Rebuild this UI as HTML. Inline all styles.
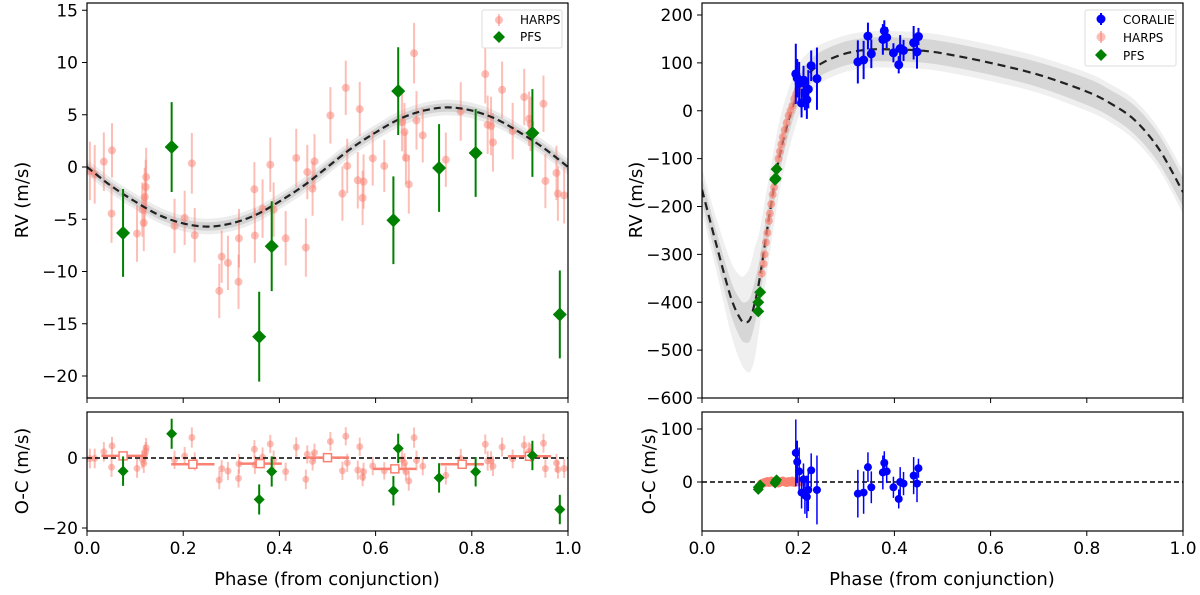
<!DOCTYPE html>
<html><head><meta charset="utf-8">
<style>
html,body{margin:0;padding:0;background:#fff;}
svg{display:block;font-family:"DejaVu Sans","Liberation Sans",sans-serif;}
</style></head>
<body>
<svg id="fig" width="1200" height="595" viewBox="0 0 1200 595" xmlns="http://www.w3.org/2000/svg"></svg>
<script>
// ---------- LEFT PANEL DATA ----------
const harpsLPhase=[0.006,0.016,0.035,0.051,0.052,0.104,0.115,0.118,0.120,0.122,0.123,0.182,0.203,0.218,0.224,0.275,0.280,0.293,0.315,0.316,0.348,0.349,0.365,0.381,0.388,0.413,0.435,0.455,0.458,0.469,0.473,0.506,0.531,0.538,0.541,0.563,0.567,0.573,0.575,0.594,0.618,0.655,0.660,0.663,0.669,0.680,0.685,0.698,0.746,0.777,0.828,0.833,0.840,0.844,0.863,0.885,0.909,0.919,0.922,0.949,0.953,0.976,0.979,0.992];
const harpsLRV=[-0.38,-0.70,0.51,-4.46,1.59,-6.37,-4.08,-5.35,-2.87,-1.91,-0.96,-5.64,-4.87,0.35,-6.53,-11.86,-8.58,-9.17,-10.99,-6.82,-2.13,-6.56,-3.98,0.22,-4.08,-6.82,0.86,-7.71,-0.48,-2.07,0.54,4.94,-2.55,7.58,0.10,-1.27,5.54,-2.96,-1.40,0.83,0.10,4.30,3.34,0.89,-1.66,10.89,4.46,3.03,0.70,5.32,8.89,4.04,3.92,2.36,7.39,3.44,6.69,4.62,4.14,6.05,-1.34,-0.57,-2.55,-2.71];
const harpsLErr=[2.8,2.8,2.8,2.8,2.6,2.7,2.6,2.7,2.8,2.6,2.8,2.6,2.6,2.9,2.6,2.6,2.5,2.6,2.6,2.8,2.6,2.6,2.8,2.6,2.6,2.6,2.8,2.8,2.6,2.6,2.6,2.7,2.6,2.6,2.6,2.7,2.6,2.6,2.6,2.6,2.5,2.8,2.8,2.5,2.8,2.9,2.8,2.6,2.6,2.8,2.8,2.8,2.8,2.8,2.7,2.7,2.7,2.6,2.6,2.7,2.6,2.6,2.6,2.7];
const pfsLPhase=[0.075,0.176,0.358,0.384,0.637,0.647,0.732,0.808,0.926,0.983];
const pfsLRV=[-6.31,1.91,-16.24,-7.58,-5.10,7.26,-0.10,1.34,3.25,-14.11];
const pfsLErr=[4.2,4.3,4.3,4.3,4.2,4.2,4.2,4.2,4.2,4.2];
const modelLPhase=[0,0.05,0.1,0.15,0.2,0.25,0.3,0.35,0.4,0.45,0.5,0.55,0.6,0.65,0.7,0.75,0.8,0.85,0.9,0.95,1.0];
const modelLRV=[0,-1.8,-3.3,-4.6,-5.4,-5.7,-5.4,-4.6,-3.3,-1.8,0,1.8,3.3,4.6,5.4,5.7,5.4,4.6,3.3,1.8,0];
const binPhase=[0.075,0.22,0.36,0.5,0.64,0.78,0.92];
const binRes=[0.6,-1.8,-1.6,0.1,-3.1,-1.8,0.5];
const leftYTicks=[15,10,5,0,-5,-10,-15,-20];
const leftResTicks=[0,-20];
const xTicks=[0.0,0.2,0.4,0.6,0.8,1.0];
// ---------- RIGHT PANEL DATA ----------
const corPhase=[0.195,0.198,0.202,0.207,0.211,0.214,0.218,0.221,0.227,0.239,0.324,0.336,0.345,0.352,0.376,0.379,0.384,0.398,0.409,0.412,0.419,0.440,0.447,0.450];
const corRV=[77,68,57,16,64,36,23,45,94,67,102,106,156,119,149,167,153,121,96,130,126,142,123,155];
const corErr=[63,40,45,30,30,35,40,40,32,65,45,40,28,30,32,22,22,20,18,28,22,35,35,18];
const corRes=[55,38,20,-20,5,-25,-28,-15,22,-15,-22,-20,28,-10,18,36,20,-10,-32,0,-3,12,-3,26];
const harpsRPhase=[0.124,0.128,0.13,0.133,0.136,0.139,0.141,0.144,0.147,0.15,0.153,0.156,0.159,0.162,0.165,0.168,0.172,0.176,0.18,0.184,0.188,0.192,0.196,0.2,0.204,0.207];
const harpsRRV=[-340,-320,-300,-275,-255,-230,-215,-195,-175,-160,-140,-120,-100,-85,-70,-55,-40,-25,-10,0,10,25,35,45,55,60];
const harpsRRes=[-3,-2,-1,0,1,-1,0,2,1,-1,0,1,-2,0,1,2,0,-1,1,0,2,-1,0,1,0,1];
const pfsRPhase=[0.117,0.117,0.121,0.152,0.153,0.155];
const pfsRRV=[-419,-400,-379,-144,-141,-122];
const pfsRRes=[-14,-10,-6,-2,1,4];
const modelRPhase=[0,0.03,0.06,0.08,0.09,0.1,0.11,0.12,0.14,0.16,0.18,0.2,0.22,0.25,0.3,0.35,0.4,0.45,0.5,0.6,0.7,0.8,0.85,0.9,0.95,1.0];
const modelRRV=[-165,-280,-390,-435,-442,-435,-400,-350,-220,-100,-20,40,75,100,120,128,128,126,120,100,75,40,15,-20,-80,-170];
const band1R=[25,28,35,40,42,45,45,42,38,35,30,28,26,25,25,25,25,25,25,25,26,28,28,30,30,30];
const band2R=[45,55,75,90,100,110,115,100,85,75,65,55,45,40,38,38,38,38,38,38,38,40,40,42,42,45];
const rightYTicks=[200,100,0,-100,-200,-300,-400,-500,-600];
const rightResTicks=[100,0];

const NS="http://www.w3.org/2000/svg";
const svg=document.getElementById('fig');
function mk(tag,attrs,parent){const e=document.createElementNS(NS,tag);for(const k in attrs)e.setAttribute(k,attrs[k]);(parent||svg).appendChild(e);return e;}
function lin(d0,d1,r0,r1){return v=>r0+(v-d0)*(r1-r0)/(d1-d0);}
function interp(xs,ys,x){if(x<=xs[0])return ys[0];for(let i=1;i<xs.length;i++){if(x<=xs[i]){const t=(x-xs[i-1])/(xs[i]-xs[i-1]);return ys[i-1]+t*(ys[i]-ys[i-1]);}}return ys[ys.length-1];}
function smoothPath(pts){let d='M'+pts[0][0].toFixed(1)+','+pts[0][1].toFixed(1);for(let i=0;i<pts.length-1;i++){const p0=pts[i-1]||pts[i],p1=pts[i],p2=pts[i+1],p3=pts[i+2]||p2;const c1=[p1[0]+(p2[0]-p0[0])/6,p1[1]+(p2[1]-p0[1])/6],c2=[p2[0]-(p3[0]-p1[0])/6,p2[1]-(p3[1]-p1[1])/6];d+='C'+c1[0].toFixed(1)+','+c1[1].toFixed(1)+' '+c2[0].toFixed(1)+','+c2[1].toFixed(1)+' '+p2[0].toFixed(1)+','+p2[1].toFixed(1);}return d;}
function bandPath(xs,ys,ws,X,Y){const up=xs.map((p,i)=>[X(p),Y(ys[i]+ws[i])]);const dn=xs.map((p,i)=>[X(p),Y(ys[i]-ws[i])]).reverse();let d=smoothPath(up);d+='L'+smoothPath(dn).slice(1)+'Z';return d;}

function axesFrame(g,x0,x1,y0,y1,name){
  const r=mk('rect',{x:x0,y:y0,width:x1-x0,height:y1-y0,fill:'none',stroke:'#000','stroke-width':1.2},g);
  
  
}
function yTicks(g,ticks,Y,x0,fmt,name){
  ticks.forEach(t=>{
    mk('line',{x1:x0-5,x2:x0,y1:Y(t),y2:Y(t),stroke:'#000','stroke-width':1},g);
    const tx=mk('text',{x:x0-9,y:Y(t)+6,'text-anchor':'end','font-size':17,fill:'#000'},g);
    tx.textContent=fmt(t);
    
    
  });
}
function xTickMarks(g,X,y,labels,name){
  xTicks.forEach(t=>{
    mk('line',{x1:X(t),x2:X(t),y1:y,y2:y+5,stroke:'#000','stroke-width':1},g);
    if(labels){const tx=mk('text',{x:X(t),y:y+23,'text-anchor':'middle','font-size':17,fill:'#000'},g);
      tx.textContent=t.toFixed(1);
      
      }
  });
}
const minus=v=>v<0?'\u2212'+Math.abs(v):String(v);
function errPoint(g,x,y,e1,e2,color,op,w,shape,r,name){
  mk('line',{x1:x,x2:x,y1:e1,y2:e2,stroke:color,'stroke-width':w,opacity:op},g);
  let m;
  if(shape==='d'){m=mk('path',{d:`M${x},${y-r}L${x+r},${y}L${x},${y+r}L${x-r},${y}Z`,fill:color,opacity:op},g);}
  else m=mk('circle',{cx:x,cy:y,r:r,fill:color,opacity:op},g);
  
  
}

// ===== LEFT TOP =====
(function(){
  const g=mk('g',{});
  
  
  const X=lin(0,1,87,568), Y=lin(0,-20,167,376);
  const defs=mk('clipPath',{id:'clipL'},g);mk('rect',{x:87,y:3,width:481,height:395},defs);
  const cg=mk('g',{'clip-path':'url(#clipL)'},g);
  const w2=modelLPhase.map(()=>0.75), w1=modelLPhase.map(()=>0.4);
  mk('path',{d:bandPath(modelLPhase,modelLRV,w2,X,Y),fill:'#ececec'},cg);
  mk('path',{d:bandPath(modelLPhase,modelLRV,w1,X,Y),fill:'#d3d3d3'},cg);
  harpsLPhase.forEach((p,i)=>errPoint(cg,X(p),Y(harpsLRV[i]),Y(harpsLRV[i]+harpsLErr[i]),Y(harpsLRV[i]-harpsLErr[i]),'#fa8072',0.5,2,'c',4,'harps-point'));
  const ml=mk('path',{d:smoothPath(modelLPhase.map((p,i)=>[X(p),Y(modelLRV[i])])),fill:'none',stroke:'#222','stroke-width':2.2,'stroke-dasharray':'7,4'},cg);
  
  
  pfsLPhase.forEach((p,i)=>errPoint(cg,X(p),Y(pfsLRV[i]),Y(pfsLRV[i]+pfsLErr[i]),Y(pfsLRV[i]-pfsLErr[i]),'#008000',1,2,'d',7,'pfs-point'));
  axesFrame(g,87,568,3,398,'left-rv-axes');
  yTicks(g,leftYTicks,Y,87,minus,'y-tick-label');
  xTickMarks(g,X,398,false,'x-tick');
  const t=mk('text',{x:0,y:0,'text-anchor':'middle','font-size':18,transform:'translate(28,200) rotate(-90)'},g);t.textContent='RV (m/s)';
  
  const lg=mk('g',{},g);
  mk('rect',{x:482,y:10,width:80,height:38,fill:'#fff',stroke:'#ddd','stroke-width':1,rx:2},lg);
  errPoint(lg,499,20,14,26,'#fa8072',0.5,2,'c',4,'legend-marker-harps');
  const a=mk('text',{x:520,y:24,'font-size':12},lg);a.textContent='HARPS';
  errPoint(lg,499,37,37,37,'#008000',1,2,'d',6,'legend-marker-pfs');
  const b=mk('text',{x:520,y:41,'font-size':12},lg);b.textContent='PFS';
})();

// ===== LEFT BOTTOM =====
(function(){
  const g=mk('g',{});
  const X=lin(0,1,87,568), Y=lin(0,-20,458,528);
  const defs=mk('clipPath',{id:'clipLR'},g);mk('rect',{x:87,y:412,width:481,height:119},defs);
  const cg=mk('g',{'clip-path':'url(#clipLR)'},g);
  harpsLPhase.forEach((p,i)=>{const r=harpsLRV[i]-interp(modelLPhase,modelLRV,p);errPoint(cg,X(p),Y(r),Y(r+harpsLErr[i]),Y(r-harpsLErr[i]),'#fa8072',0.5,2,'c',3.5,'harps-residual');});
  mk('line',{x1:87,x2:568,y1:Y(0),y2:Y(0),stroke:'#000','stroke-width':1.6,'stroke-dasharray':'5,3'},cg);
  binPhase.forEach((p,i)=>{
    mk('line',{x1:X(p-0.045),x2:X(p+0.045),y1:Y(binRes[i]),y2:Y(binRes[i]),stroke:'#fa8072','stroke-width':2.5},cg);
    const s=mk('rect',{x:X(p)-4,y:Y(binRes[i])-4,width:8,height:8,fill:'#fff',stroke:'#fa8072','stroke-width':1.5},cg);
    
  });
  pfsLPhase.forEach((p,i)=>{const r=pfsLRV[i]-interp(modelLPhase,modelLRV,p);errPoint(cg,X(p),Y(r),Y(r+pfsLErr[i]),Y(r-pfsLErr[i]),'#008000',1,2,'d',5.5,'pfs-residual');});
  axesFrame(g,87,568,412,531,'left-residual-axes');
  yTicks(g,leftResTicks,Y,87,minus,'y-tick-label');
  xTickMarks(g,X,531,true,'x-tick-label');
  const t=mk('text',{x:0,y:0,'text-anchor':'middle','font-size':18,transform:'translate(28,471) rotate(-90)'},g);t.textContent='O-C (m/s)';
  
  const xt=mk('text',{x:327,y:585,'text-anchor':'middle','font-size':18},g);xt.textContent='Phase (from conjunction)';
  
})();

// ===== RIGHT TOP =====
(function(){
  const g=mk('g',{});
  const X=lin(0,1,702,1183), Y=lin(200,-600,15,398);
  const defs=mk('clipPath',{id:'clipR'},g);mk('rect',{x:702,y:3,width:481,height:395},defs);
  const cg=mk('g',{'clip-path':'url(#clipR)'},g);
  mk('path',{d:bandPath(modelRPhase,modelRRV,band2R,X,Y),fill:'#efefef'},cg);
  mk('path',{d:bandPath(modelRPhase,modelRRV,band1R,X,Y),fill:'#d6d6d6'},cg);
  const ml=mk('path',{d:smoothPath(modelRPhase.map((p,i)=>[X(p),Y(modelRRV[i])])),fill:'none',stroke:'#222','stroke-width':2.2,'stroke-dasharray':'8,5'},cg);
  
  harpsRPhase.forEach((p,i)=>errPoint(cg,X(p),Y(harpsRRV[i]),Y(harpsRRV[i]+8),Y(harpsRRV[i]-8),'#fa8072',0.6,2,'c',4,'harps-point'));
  pfsRPhase.forEach((p,i)=>errPoint(cg,X(p),Y(pfsRRV[i]),Y(pfsRRV[i]+5),Y(pfsRRV[i]-5),'#008000',1,2,'d',6,'pfs-point'));
  corPhase.forEach((p,i)=>errPoint(cg,X(p),Y(corRV[i]),Y(corRV[i]+corErr[i]),Y(corRV[i]-corErr[i]),'#0000ff',1,2,'c',4.5,'coralie-point'));
  axesFrame(g,702,1183,3,398,'right-rv-axes');
  yTicks(g,rightYTicks,Y,702,minus,'y-tick-label');
  xTickMarks(g,X,398,false,'x-tick');
  const t=mk('text',{x:0,y:0,'text-anchor':'middle','font-size':18,transform:'translate(642,200) rotate(-90)'},g);t.textContent='RV (m/s)';
  
  const lg=mk('g',{},g);
  mk('rect',{x:1085,y:10,width:91,height:56,fill:'#fff',stroke:'#ddd','stroke-width':1,rx:2},lg);
  errPoint(lg,1101,19,13,25,'#0000ff',1,2,'c',4.5,'legend-marker-coralie');
  const a=mk('text',{x:1123,y:24,'font-size':12},lg);a.textContent='CORALIE';
  errPoint(lg,1101,37,31,43,'#fa8072',0.5,2,'c',4.5,'legend-marker-harps');
  const b=mk('text',{x:1123,y:42,'font-size':12},lg);b.textContent='HARPS';
  errPoint(lg,1101,55,55,55,'#008000',1,2,'d',6,'legend-marker-pfs');
  const c=mk('text',{x:1123,y:60,'font-size':12},lg);c.textContent='PFS';
})();

// ===== RIGHT BOTTOM =====
(function(){
  const g=mk('g',{});
  const X=lin(0,1,702,1183), Y=lin(100,0,429,482);
  const defs=mk('clipPath',{id:'clipRR'},g);mk('rect',{x:702,y:412,width:481,height:119},defs);
  const cg=mk('g',{'clip-path':'url(#clipRR)'},g);
  mk('line',{x1:702,x2:1183,y1:Y(0),y2:Y(0),stroke:'#000','stroke-width':1.6,'stroke-dasharray':'5,3'},cg);
  harpsRPhase.forEach((p,i)=>errPoint(cg,X(p),Y(harpsRRes[i]),Y(harpsRRes[i]+8),Y(harpsRRes[i]-8),'#fa8072',0.85,2,'c',4.5,'harps-residual'));
  pfsRPhase.forEach((p,i)=>errPoint(cg,X(p),Y(pfsRRes[i]),Y(pfsRRes[i]+6),Y(pfsRRes[i]-6),'#008000',1,2,'d',5.5,'pfs-residual'));
  corPhase.forEach((p,i)=>errPoint(cg,X(p),Y(corRes[i]),Y(corRes[i]+corErr[i]),Y(corRes[i]-corErr[i]),'#0000ff',1,1.5,'c',4,'coralie-residual'));
  axesFrame(g,702,1183,412,531,'right-residual-axes');
  yTicks(g,rightResTicks,Y,702,minus,'y-tick-label');
  xTickMarks(g,X,531,true,'x-tick-label');
  const t=mk('text',{x:0,y:0,'text-anchor':'middle','font-size':18,transform:'translate(655,471) rotate(-90)'},g);t.textContent='O-C (m/s)';
  
  const xt=mk('text',{x:942,y:585,'text-anchor':'middle','font-size':18},g);xt.textContent='Phase (from conjunction)';
  
})();
</script>
</body></html>
